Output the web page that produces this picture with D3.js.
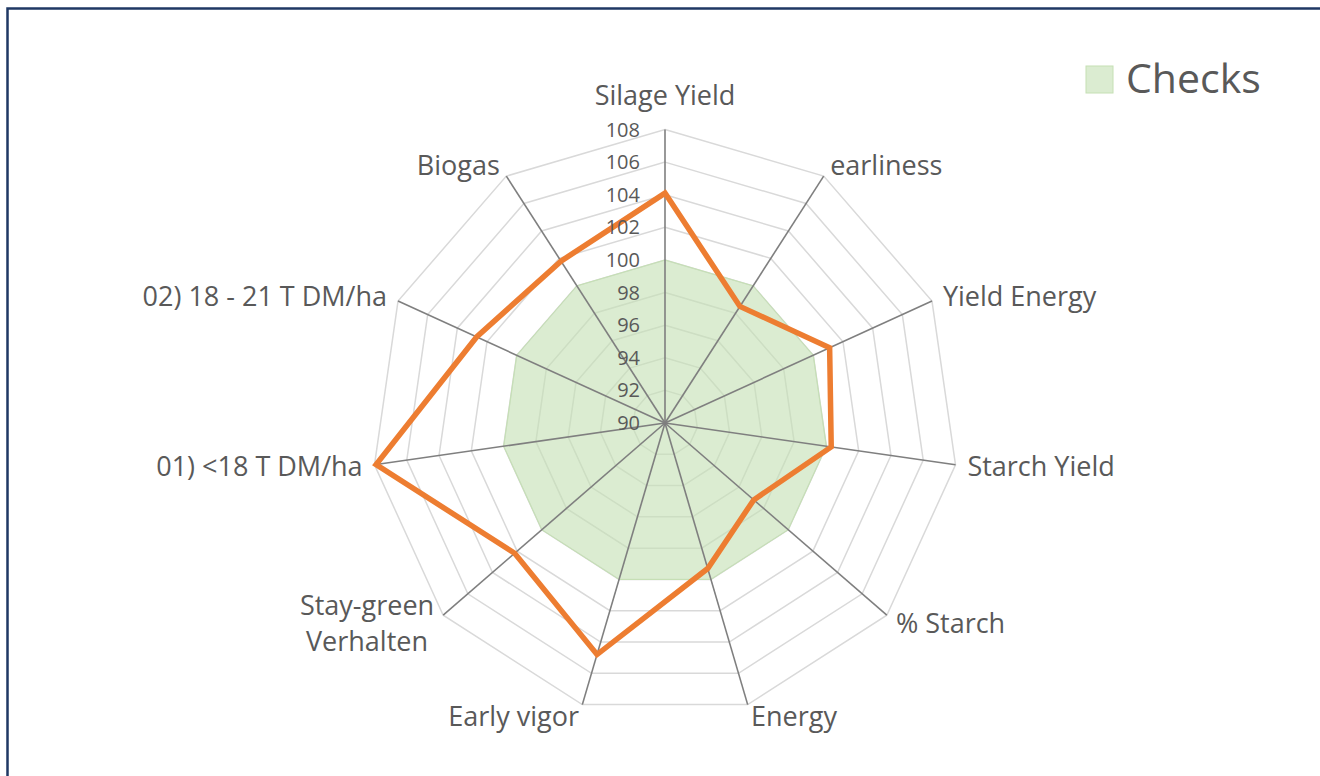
<!DOCTYPE html>
<html><head><meta charset="utf-8">
<script src="https://cdn.jsdelivr.net/npm/d3@7"></script>
<style>html,body{margin:0;padding:0;background:#fff;overflow:hidden}</style>
</head><body><svg id="c" width="1320" height="776"></svg>
<script>
const categories = ["Silage Yield","earliness","Yield Energy","Starch Yield","% Starch","Energy","Early vigor","Stay-green|Verhalten","01) <18 T DM/ha","02) 18 - 21 T DM/ha","Biogas"];
const checks = [100,100,100,100,100,100,100,100,100,100,100];
const variety = [104.1,98.5,101.1,100.3,97.2,99.3,104.8,102.2,107.9,102.7,101.8];
const ticks = [90,92,94,96,98,100,102,104,106,108];
const legendLabels = ["Checks"];

const svg = d3.select("#c");
const cx = 665, cy = 423, R = 293.5;
const font = "'Open Sans', sans-serif";
const textColor = "#595959";
const labelSize = 27;

svg.append("rect").attr("x",7.5).attr("y",8.5).attr("width",2000).attr("height",2000)
  .attr("fill","none").attr("stroke","#1f3864").attr("stroke-width",2.5);

const n = categories.length;
const ang = d3.scaleLinear().domain([0,n]).range([0,2*Math.PI]);
const r = d3.scaleLinear().domain([90,108]).range([0,R]);
const pt = (i,v)=>[cx + r(v)*Math.sin(ang(i)), cy - r(v)*Math.cos(ang(i))];

// grid rings
ticks.forEach(t=>{
  const pts = d3.range(n).map(i=>pt(i,t));
  svg.append("path").attr("d", d3.line()(pts)+"Z").attr("fill","none")
    .attr("stroke","#d9d9d9").attr("stroke-width",1.5);
});

// checks area
svg.append("path").attr("d", d3.line()(checks.map((v,i)=>pt(i,v)))+"Z")
  .attr("fill","#c5e0b4").attr("fill-opacity",0.62).attr("stroke","#c5e0b4").attr("stroke-width",1);

// spokes
d3.range(n).forEach(i=>{
  const [x,y]=pt(i,108);
  svg.append("line").attr("x1",cx).attr("y1",cy).attr("x2",x).attr("y2",y)
    .attr("stroke","#7f7f7f").attr("stroke-width",1.6);
});

// variety line
svg.append("path").attr("d", d3.line()(variety.map((v,i)=>pt(i,v)))+"Z")
  .attr("fill","none").attr("stroke","#ed7d31").attr("stroke-width",5.5).attr("stroke-linejoin","miter");

// tick labels
ticks.forEach(t=>{
  svg.append("text").attr("x",cx-25).attr("y",cy-r(t)).attr("dy","0.35em")
    .attr("text-anchor","end").attr("font-family",font).attr("font-size",20)
    .attr("fill",textColor).text(t);
});

// category labels
categories.forEach((c,i)=>{
  const a = ang(i), s = Math.sin(a), co = Math.cos(a);
  let x = cx + (R+12)*s, y = cy - (R+12)*co;
  let anchor = s>0.1?"start":(s<-0.1?"end":"middle");
  if (co>0.9) y -= 22;
  const lines = c.split("|");
  const g = svg.append("text").attr("font-family",font).attr("font-size",labelSize).attr("fill",textColor);
  if (lines.length===1){
    g.attr("x",x).attr("y",y).attr("dy","0.35em").attr("text-anchor",anchor).text(c);
  } else {
    const tmp = svg.append("text").attr("font-family",font).attr("font-size",labelSize);
    const w = d3.max(lines,l=>{tmp.text(l);return tmp.node().getComputedTextLength();});
    tmp.remove();
    const mx = x - w/2;
    g.attr("text-anchor","middle");
    lines.forEach((l,k)=>{
      g.append("tspan").attr("x",mx).attr("y",y+(k-(lines.length-1)/2)*36).attr("dy","0.35em").text(l);
    });
  }
});

// legend
legendLabels.forEach((l,k)=>{
  svg.append("rect").attr("x",1086).attr("y",66).attr("width",27).attr("height",27)
    .attr("fill","#c5e0b4").attr("fill-opacity",0.62).attr("stroke","#c5e0b4");
  svg.append("text").attr("x",1126).attr("y",93).attr("font-family",font).attr("font-size",41)
    .attr("fill",textColor).text(l);
});
</script></body></html>
